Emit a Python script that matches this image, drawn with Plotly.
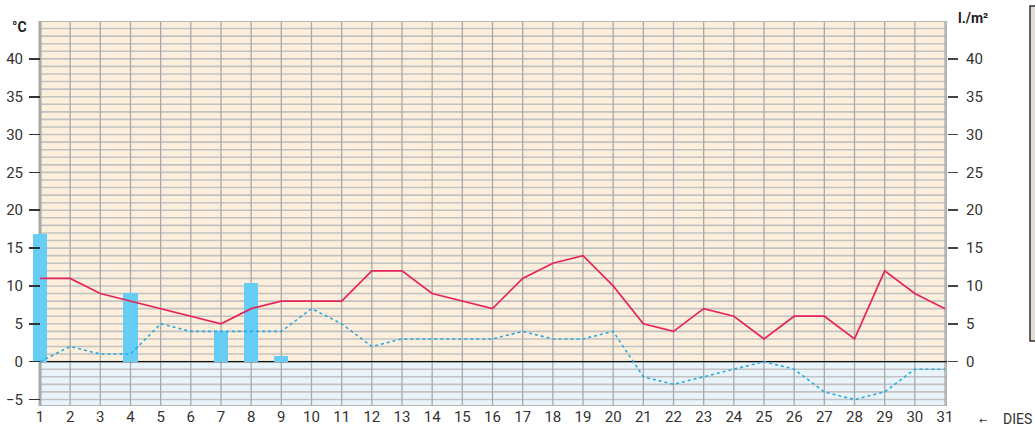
import plotly.graph_objects as go

# ---- data ----
days = list(range(1, 32))
day_labels = [str(d) for d in days]
temp_max = [11, 11, 9, 8, 7, 6, 5, 7, 8, 8, 8, 12, 12, 9, 8, 7, 11, 13, 14, 10,
            5, 4, 7, 6, 3, 6, 6, 3, 12, 9, 7]
temp_min = [0, 2, 1, 1, 5, 4, 4, 4, 4, 7, 5, 2, 3, 3, 3, 3, 4, 3, 3, 4,
            -2, -3, -2, -1, 0, -1, -4, -5, -4, -1, -1]
rain_days = [1, 4, 7, 8, 9]
rain_vals = [16.8, 9.1, 4.1, 10.4, 0.7]
left_ticks = [-5, 0, 5, 10, 15, 20, 25, 30, 35, 40]
right_ticks = [0, 5, 10, 15, 20, 25, 30, 35, 40]

# ---- layout geometry ----
W, H = 1035, 426
ML, MR, MT, MB = 30, 88, 21, 20
PW = W - ML - MR
XR = [0.6686, 31.066]
YR = [-5.86, 45]
FONT = "Roboto, Liberation Sans, sans-serif"

def px2paper_x(px):
    return (px - ML) / PW

def px2paper_y(py):
    return 1 - (py - MT) / (H - MT - MB)

fig = go.Figure()

fig.add_trace(go.Bar(x=rain_days, y=rain_vals, width=0.47,
                     marker=dict(color="#66cdf5", line=dict(width=0)),
                     yaxis="y", showlegend=False, hoverinfo="skip"))
fig.add_trace(go.Scatter(x=days, y=temp_min, mode="lines",
                         line=dict(color="#27a9e1", width=1.6, dash="dot"),
                         showlegend=False))
fig.add_trace(go.Scatter(x=days, y=temp_max, mode="lines",
                         line=dict(color="#e5265c", width=1.7),
                         showlegend=False))
# empty trace to register the right-hand axis
fig.add_trace(go.Scatter(x=[None], y=[None], yaxis="y2", showlegend=False,
                         hoverinfo="skip"))

shapes = []
x0, x1 = 1, XR[1]
shapes.append(dict(type="rect", xref="x", yref="y", x0=x0, x1=x1, y0=0, y1=YR[1],
                   fillcolor="#fdefdc", line=dict(width=0), layer="below"))
shapes.append(dict(type="rect", xref="x", yref="y", x0=x0, x1=x1, y0=YR[0], y1=0,
                   fillcolor="#e9f4fa", line=dict(width=0), layer="below"))
for v in range(-5, 45):
    shapes.append(dict(type="line", xref="x", yref="y", x0=x0, x1=x1, y0=v, y1=v,
                       line=dict(color="#c2c2c2", width=1.6), layer="below"))
for d in days[1:]:
    shapes.append(dict(type="line", xref="x", yref="y", x0=d, x1=d, y0=YR[0], y1=YR[1],
                       line=dict(color="#a9a9a9", width=1.3), layer="below"))
# borders
shapes.append(dict(type="line", xref="x", yref="y", x0=x0, x1=x1, y0=YR[1], y1=YR[1],
                   line=dict(color="#b5b5b5", width=2), layer="below"))
shapes.append(dict(type="line", xref="x", yref="y", x0=x0, x1=x1, y0=YR[0], y1=YR[0],
                   line=dict(color="#b5b5b5", width=2), layer="below"))
shapes.append(dict(type="line", xref="x", yref="y", x0=x1, x1=x1, y0=YR[0], y1=YR[1],
                   line=dict(color="#b0b0b0", width=2.5), layer="below"))
shapes.append(dict(type="line", xref="x", yref="y", x0=x0, x1=x0, y0=YR[0], y1=YR[1],
                   line=dict(color="#a8a8a8", width=3), layer="below"))
shapes.append(dict(type="line", xref="x", yref="y", x0=x0, x1=x1, y0=0, y1=0,
                   line=dict(color="#111111", width=1.4), layer="below"))
# partial box at right edge
shapes.append(dict(type="rect", xref="paper", yref="paper",
                   x0=px2paper_x(1030), x1=px2paper_x(1045),
                   y0=px2paper_y(341), y1=px2paper_y(6),
                   fillcolor="#e3ddd5", line=dict(color="#333333", width=1.5)))

annotations = [
    dict(text="<b>°C</b>", xref="paper", yref="paper", x=px2paper_x(10),
         y=px2paper_y(27), xanchor="left", yanchor="middle", showarrow=False,
         font=dict(family=FONT, size=14, color="#222")),
    dict(text="<b>l./m²</b>", xref="paper", yref="paper", x=px2paper_x(956),
         y=px2paper_y(18), xanchor="left", yanchor="middle", showarrow=False,
         font=dict(family=FONT, size=14, color="#222")),
    dict(text="DIES", xref="paper", yref="paper", x=px2paper_x(1001),
         y=px2paper_y(419), xanchor="left", yanchor="middle", showarrow=False,
         font=dict(family=FONT, size=14, color="#333")),
    dict(text="←", xref="paper", yref="paper", x=px2paper_x(983),
         y=px2paper_y(420), xanchor="center", yanchor="middle", showarrow=False,
         font=dict(family="DejaVu Sans", size=10, color="#333")),
]

fig.update_layout(
    width=W, height=H,
    margin=dict(l=ML, r=MR, t=MT, b=MB, pad=0, autoexpand=False),
    paper_bgcolor="white", plot_bgcolor="white",
    bargap=0,
    shapes=shapes, annotations=annotations,
    xaxis=dict(range=XR, tickvals=days, ticktext=day_labels, showgrid=False,
               zeroline=False, showline=False, ticks="", automargin=False,
               tickfont=dict(family=FONT, size=15, color="#333")),
    yaxis=dict(range=YR, anchor="free", position=px2paper_x(40), automargin=False,
               tickvals=left_ticks, showgrid=False, zeroline=False, showline=False,
               ticks="outside", ticklen=11, tickwidth=1.6, tickcolor="#333",
               ticklabelstandoff=3,
               tickfont=dict(family=FONT, size=15, color="#333")),
    yaxis2=dict(range=YR, overlaying="y", side="right", anchor="x", automargin=False,
                tickvals=right_ticks, showgrid=False, zeroline=False, showline=False,
                ticks="outside", ticklen=10, tickwidth=1.6, tickcolor="#444",
                ticklabelstandoff=5,
                tickfont=dict(family=FONT, size=15, color="#333")),
)

fig.write_html(
    "out.html",
    config={"displayModeBar": False, "staticPlot": True},
    post_script="document.body.style.margin='0';document.body.style.padding='0';"
                "document.body.style.overflow='hidden';",
)
